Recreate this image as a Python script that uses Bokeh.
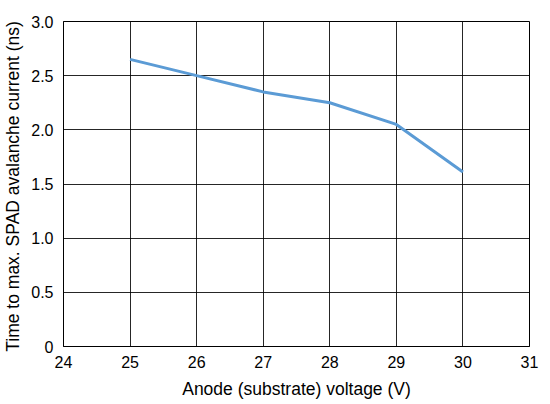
from bokeh.plotting import figure
from bokeh.models import FixedTicker, Range1d
from bokeh.embed import file_html
from bokeh.resources import INLINE

voltage = [25, 26, 27, 28, 29, 30]
time_ns = [2.65, 2.50, 2.35, 2.25, 2.05, 1.61]
x_ticks = [24, 25, 26, 27, 28, 29, 30, 31]
y_ticks = [0, 0.5, 1.0, 1.5, 2.0, 2.5, 3.0]
y_tick_labels = ["0", "0.5", "1.0", "1.5", "2.0", "2.5", "3.0"]

FONT = "Liberation Sans"

p = figure(width=534, height=388, output_backend="svg", toolbar_location=None,
           x_range=Range1d(24, 31), y_range=Range1d(0, 3.0),
           min_border_left=58, min_border_right=10, min_border_top=21, min_border_bottom=42)
p.frame_width = 466
p.frame_height = 325

p.line(voltage, time_ns, line_color="#5b9bd5", line_width=3)

p.outline_line_color = "black"
p.outline_line_width = 1
p.outline_line_alpha = 1

for ax in (p.xaxis, p.yaxis):
    ax.axis_line_color = "black"
    ax.major_tick_line_color = None
    ax.minor_tick_line_color = None
    ax.major_label_text_font = FONT
    ax.major_label_text_font_size = "16px"
    ax.major_label_text_color = "black"
    ax.axis_label_text_font = FONT
    ax.axis_label_text_font_size = "17.5px"
    ax.axis_label_text_font_style = "normal"
    ax.axis_label_text_color = "black"

p.xaxis.ticker = FixedTicker(ticks=x_ticks)
p.yaxis.ticker = FixedTicker(ticks=y_ticks)
p.yaxis.major_label_overrides = {t: s for t, s in zip(y_ticks, y_tick_labels)}
p.xaxis.major_label_standoff = 3
p.yaxis.major_label_standoff = 4
p.xaxis.axis_label = "Anode (substrate) voltage (V)"
p.yaxis.axis_label = "Time to max. SPAD avalanche current  (ns)"
p.xaxis.axis_label_standoff = 8
p.yaxis.axis_label_standoff = 5

p.xgrid.ticker = FixedTicker(ticks=x_ticks)
p.ygrid.ticker = FixedTicker(ticks=y_ticks)
p.grid.grid_line_color = "black"
p.grid.grid_line_alpha = 0.85
p.grid.grid_line_width = 1

open("out.html", "w").write(file_html(p, INLINE))
